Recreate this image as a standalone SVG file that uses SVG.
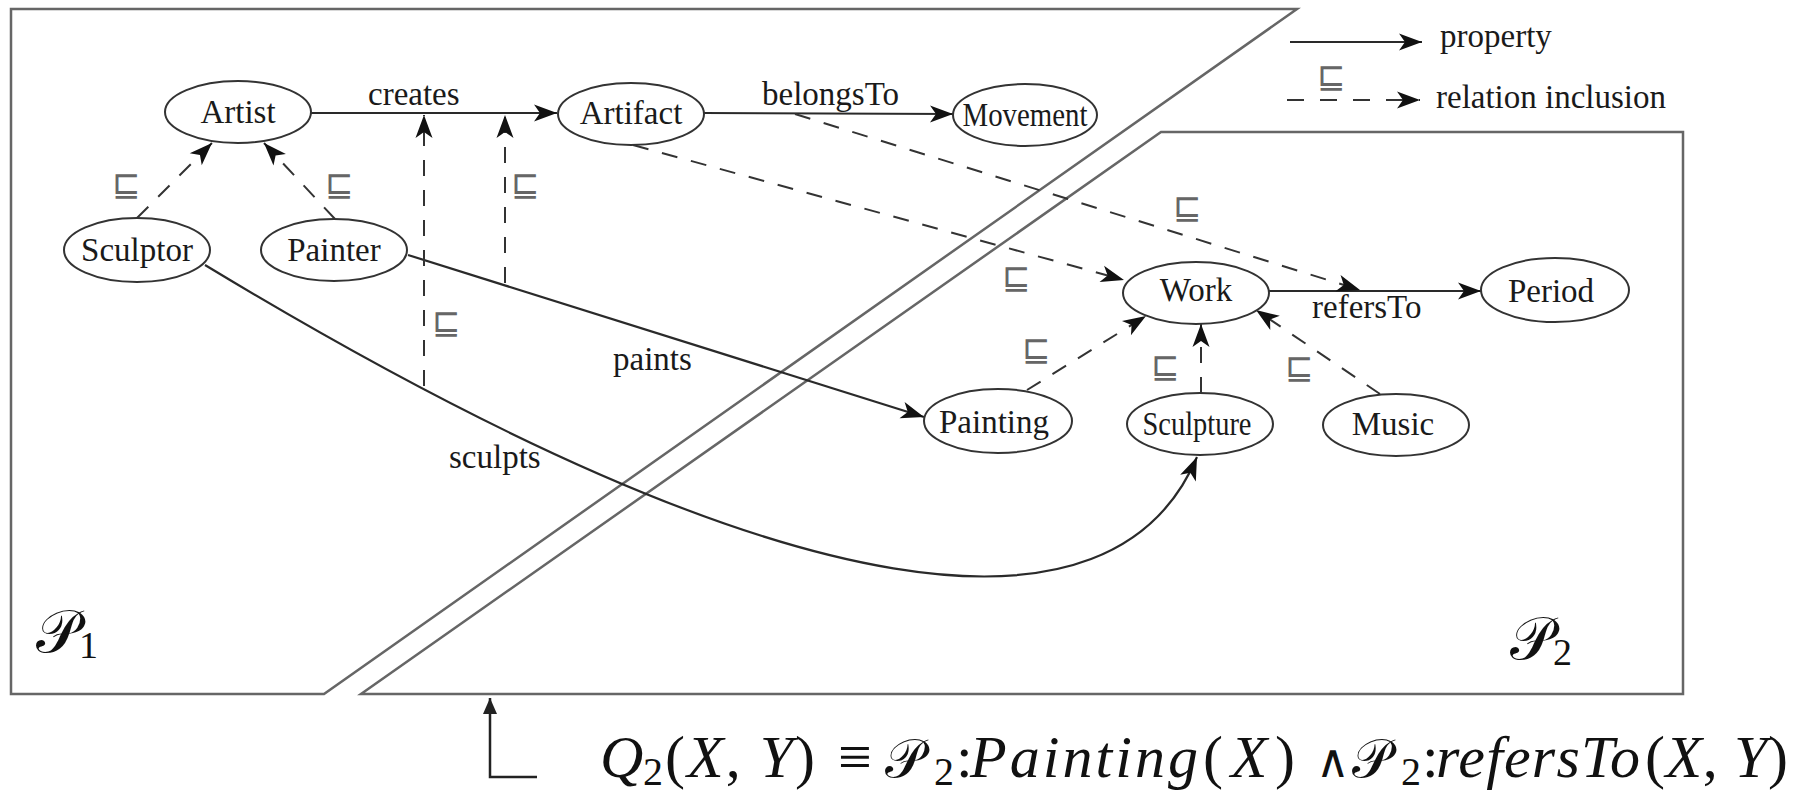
<svg xmlns="http://www.w3.org/2000/svg" width="1797" height="793" viewBox="0 0 1797 793">
<defs>
<marker id="ah" viewBox="-25 -10 27 20" refX="0" refY="0" markerWidth="27" markerHeight="20" markerUnits="userSpaceOnUse" orient="auto"><path d="M0,0 L-23,-8.5 L-17,0 L-23,8.5 Z" fill="#111"/></marker>
<marker id="ahq" viewBox="-18 -9 20 18" refX="0" refY="0" markerWidth="20" markerHeight="18" markerUnits="userSpaceOnUse" orient="auto"><path d="M0,0 L-16,-7 L-16,7 Z" fill="#222"/></marker>
<style>
.frame{fill:none;stroke:#666;stroke-width:2.5}
.node ellipse{fill:#fff;stroke:#333;stroke-width:2}
.node text{font-family:"Liberation Serif","Times New Roman",serif;font-size:33px;fill:#1a1a1a;text-anchor:middle}
.prop{fill:none;stroke:#2a2a2a;stroke-width:2.2;marker-end:url(#ah)}
.incl{fill:none;stroke:#333;stroke-width:2;stroke-dasharray:16 14;marker-end:url(#ah)}
.lbl{font-family:"Liberation Serif","Times New Roman",serif;font-size:33px;fill:#1a1a1a}
.sq{font-family:"DejaVu Sans",sans-serif;font-size:34px;fill:#666;text-anchor:middle}
.math{font-family:"Liberation Serif","Times New Roman",serif;font-size:60px;fill:#111}
.it{font-style:italic}
.cal{font-family:"DejaVu Serif","DejaVu Sans","Noto Sans",serif;font-style:normal}
</style>
</defs>

<g id="frames">
<polygon class="frame" points="11,9 1297,9 324,694 11,694"/>
<polygon class="frame" points="1161,132 1683,132 1683,694 361,694"/>
<text class="math" x="36" y="652" font-size="56"><tspan class="cal">𝒫</tspan><tspan font-size="38" dy="6">1</tspan></text>
<text class="math" x="1510" y="659" font-size="56"><tspan class="cal">𝒫</tspan><tspan font-size="38" dy="6">2</tspan></text>
</g>

<g id="legend">
<line class="prop" x1="1290" y1="42" x2="1422" y2="42"/>
<text class="lbl" x="1440" y="47">property</text>
<line class="incl" x1="1287" y1="100" x2="1420" y2="100" style="stroke-dasharray:17 16"/>
<text class="sq" x="1331" y="88">⊑</text>
<text class="lbl" x="1436" y="108">relation inclusion</text>
</g>

<g id="connectors">
<line class="prop" x1="311" y1="113" x2="557" y2="113"/>
<line class="prop" x1="704" y1="113" x2="953" y2="114"/>
<line class="prop" x1="1269" y1="291" x2="1481" y2="291"/>
<line class="prop" x1="408" y1="255" x2="924" y2="417"/>
<path class="prop" d="M205,265 C800,625 1115,650 1197,457"/>
<line class="incl" x1="137" y1="218" x2="212" y2="143"/>
<line class="incl" x1="335" y1="219" x2="264" y2="143"/>
<line class="incl" x1="424" y1="386" x2="424" y2="115"/>
<line class="incl" x1="505" y1="283" x2="505" y2="115"/>
<line class="incl" x1="633" y1="145" x2="1124" y2="280"/>
<line class="incl" x1="795" y1="114" x2="1360" y2="290"/>
<line class="incl" x1="1027" y1="390" x2="1146" y2="316"/>
<line class="incl" x1="1201" y1="393" x2="1201" y2="324"/>
<line class="incl" x1="1380" y1="394" x2="1256" y2="310"/>
<polyline points="537,777 490,777 490,698" fill="none" stroke="#222" stroke-width="2.5" marker-end="url(#ahq)"/>
</g>

<g id="edge-labels">
<text class="lbl" x="368" y="105">creates</text>
<text class="lbl" x="762" y="105">belongsTo</text>
<text class="lbl" x="1312" y="318">refersTo</text>
<text class="lbl" x="613" y="370">paints</text>
<text class="lbl" x="449" y="468">sculpts</text>
<text class="sq" x="126" y="196">⊑</text>
<text class="sq" x="339" y="196">⊑</text>
<text class="sq" x="525" y="196">⊑</text>
<text class="sq" x="446" y="334">⊑</text>
<text class="sq" x="1016" y="289">⊑</text>
<text class="sq" x="1187" y="219">⊑</text>
<text class="sq" x="1036" y="361">⊑</text>
<text class="sq" x="1165" y="378">⊑</text>
<text class="sq" x="1299" y="379">⊑</text>
</g>

<g id="node-artist" class="node"><ellipse cx="238" cy="112" rx="73" ry="31"/><text x="238" y="123">Artist</text></g>
<g id="node-artifact" class="node"><ellipse cx="631" cy="114" rx="73" ry="31"/><text x="631" y="124">Artifact</text></g>
<g id="node-movement" class="node"><ellipse cx="1025" cy="115" rx="72" ry="31"/><text x="1025" y="126" textLength="125" lengthAdjust="spacingAndGlyphs">Movement</text></g>
<g id="node-sculptor" class="node"><ellipse cx="137" cy="250" rx="73" ry="32"/><text x="137" y="261">Sculptor</text></g>
<g id="node-painter" class="node"><ellipse cx="334" cy="250" rx="73" ry="31"/><text x="334" y="261">Painter</text></g>
<g id="node-work" class="node"><ellipse cx="1196" cy="293" rx="73" ry="31"/><text x="1196" y="301">Work</text></g>
<g id="node-period" class="node"><ellipse cx="1555" cy="290" rx="74" ry="32"/><text x="1551" y="302">Period</text></g>
<g id="node-painting" class="node"><ellipse cx="998" cy="421" rx="74" ry="32"/><text x="994" y="433">Painting</text></g>
<g id="node-sculpture" class="node"><ellipse cx="1200" cy="424" rx="73" ry="31"/><text x="1197" y="435" textLength="109" lengthAdjust="spacingAndGlyphs">Sculpture</text></g>
<g id="node-music" class="node"><ellipse cx="1396" cy="425" rx="73" ry="31"/><text x="1393" y="435">Music</text></g>

<g id="formula" class="math">
<text x="600" y="777" class="it">Q</text>
<text x="643" y="785" font-size="40">2</text>
<text x="665" y="777" textLength="150" lengthAdjust="spacing">(<tspan class="it">X</tspan>, <tspan class="it">Y</tspan>)</text>
<text x="838" y="777">≡</text>
<text x="885" y="777" class="cal" font-size="54">𝒫</text>
<text x="934" y="785" font-size="40">2</text>
<text x="956" y="777">:</text>
<text x="970" y="777" class="it" textLength="228" lengthAdjust="spacing">Painting</text>
<text x="1203" y="777" textLength="92" lengthAdjust="spacing">(<tspan class="it">X</tspan>)</text>
<text x="1316" y="777" font-family="DejaVu Serif" font-size="46">∧</text>
<text x="1352" y="777" class="cal" font-size="54">𝒫</text>
<text x="1401" y="785" font-size="40">2</text>
<text x="1422" y="777">:</text>
<text x="1436" y="777" class="it" textLength="204" lengthAdjust="spacing">refersTo</text>
<text x="1645" y="777" textLength="143" lengthAdjust="spacing">(<tspan class="it">X</tspan>, <tspan class="it">Y</tspan>)</text>
</g>
</svg>
